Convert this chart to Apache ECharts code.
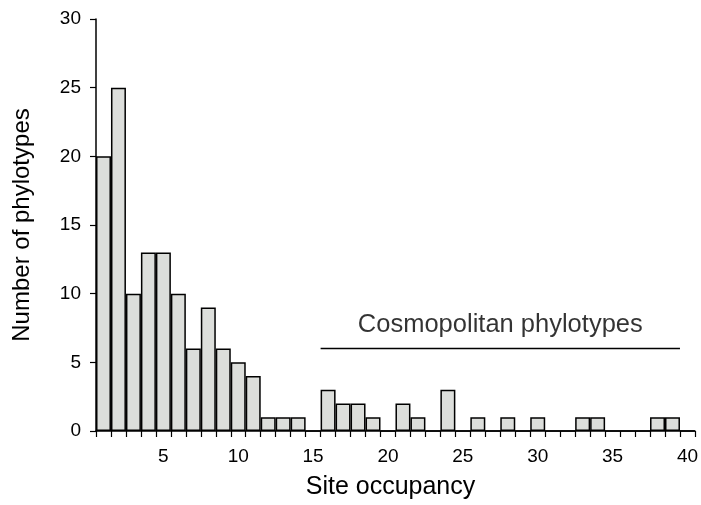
<!DOCTYPE html>
<html>
<head>
<meta charset="utf-8">
<script src="https://cdn.jsdelivr.net/npm/echarts@6/dist/echarts.min.js"></script>
<style>html,body{margin:0;padding:0;background:#fff;}#c{width:701px;height:505px;}</style>
</head>
<body>
<div id="c"></div>
<script>
const categories = ['1','2','3','4','5','6','7','8','9','10','11','12','13','14','15','16','17','18','19','20','21','22','23','24','25','26','27','28','29','30','31','32','33','34','35','36','37','38','39','40'];
const counts = [20,25,10,13,13,10,6,9,6,5,4,1,1,1,0,3,2,2,1,0,2,1,0,3,0,1,0,1,0,1,0,0,1,1,0,0,0,1,1,0];
const cosmoStart = 15, cosmoEnd = 39, cosmoLevel = 6;
const cosmoText = 'Cosmopolitan phylotypes';
const yTicks = [0, 5, 10, 15, 20, 25, 30];

const font = 'Liberation Sans, Arial, sans-serif';
const chart = echarts.init(document.getElementById('c'), null, {renderer: 'canvas'});
chart.setOption({
  animation: false,
  backgroundColor: '#fff',
  grid: {left: 96, right: 4, top: 19, bottom: 72, containLabel: false},
  xAxis: [{
    type: 'category',
    data: categories,
    name: 'Site occupancy',
    nameLocation: 'middle',
    nameGap: 44,
    nameTextStyle: {fontFamily: font, fontSize: 25, color: '#000', padding: [0, 10, 0, 0]},
    axisLine: {lineStyle: {color: '#000', width: 1.5}},
    axisTick: {show: true, interval: 0, length: 6, lineStyle: {color: '#000', width: 1.2}},
    axisLabel: {
      interval: function (i) { return (i + 1) % 5 === 0; },
      fontFamily: font, fontSize: 19, color: '#000', margin: 16
    },
    splitLine: {show: false}
  }, {
    type: 'value', min: 0, max: 40, show: false
  }],
  yAxis: {
    type: 'value',
    min: yTicks[0], max: yTicks[yTicks.length - 1], interval: 5,
    name: 'Number of phylotypes',
    nameLocation: 'middle',
    nameGap: 62,
    nameTextStyle: {fontFamily: font, fontSize: 24, color: '#000'},
    axisLine: {show: true, lineStyle: {color: '#000', width: 1.5}},
    axisTick: {show: true, length: 6, lineStyle: {color: '#000', width: 1.2}},
    axisLabel: {fontFamily: font, fontSize: 19, color: '#000', margin: 15},
    splitLine: {show: false}
  },
  series: [{
    type: 'bar',
    data: counts,
    barCategoryGap: '0%',
    itemStyle: {color: '#dcdedb', borderColor: '#000', borderWidth: 1.5}
  }, {
    type: 'line',
    xAxisIndex: 1,
    data: [[cosmoStart, cosmoLevel], [cosmoEnd, cosmoLevel]],
    symbol: 'none',
    lineStyle: {color: '#000', width: 1.5},
    z: 5
  }, {
    type: 'scatter',
    xAxisIndex: 1,
    data: [[(cosmoStart + cosmoEnd) / 2, cosmoLevel]],
    symbolSize: 0,
    label: {show: true, position: 'top', distance: 11, formatter: cosmoText,
      fontFamily: font, fontSize: 25.5, color: '#000'}
  }]
});
</script>
</body>
</html>
